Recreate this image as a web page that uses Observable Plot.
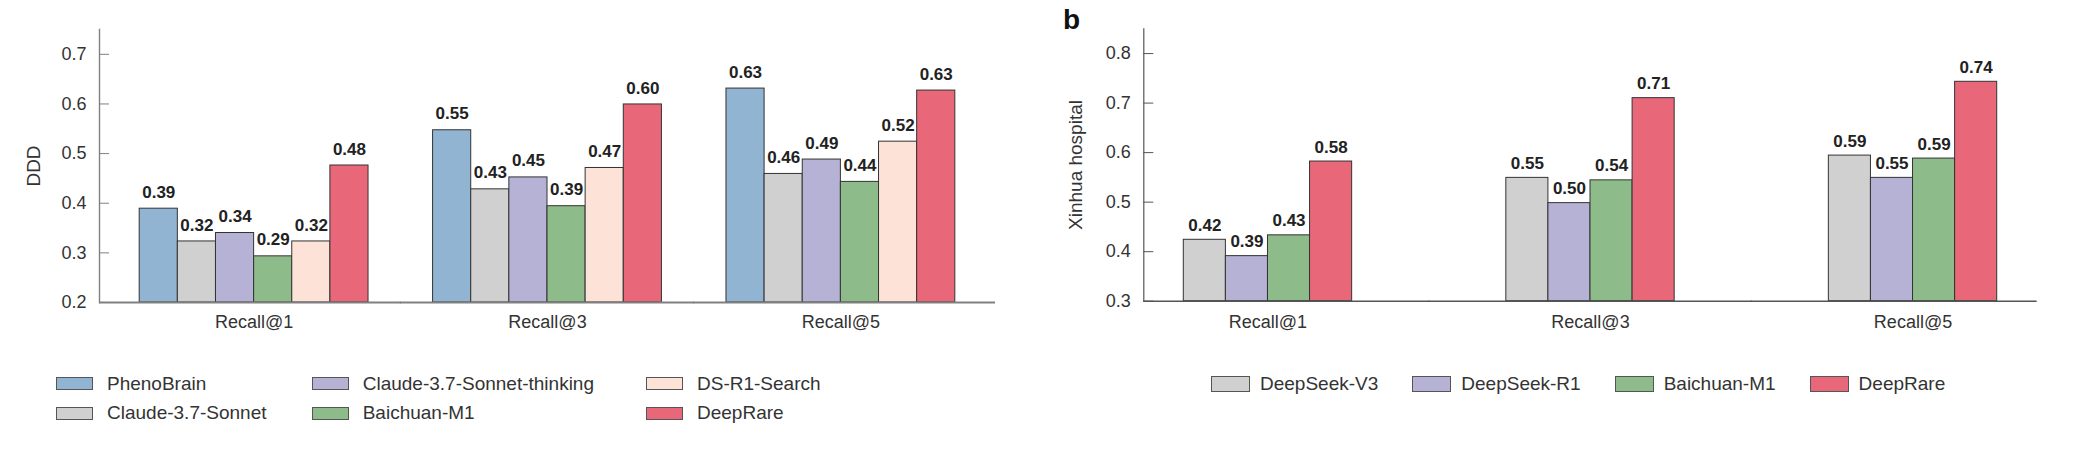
<!DOCTYPE html>
<html>
<head>
<meta charset="utf-8">
<script src="https://cdn.jsdelivr.net/npm/d3@7"></script>
<script src="https://cdn.jsdelivr.net/npm/@observablehq/plot@0.6"></script>
<style>
  body { margin: 0; background: #fff; font-family: "Liberation Sans", Arial, Helvetica, sans-serif; color: #333; }
  #wrap { position: relative; width: 2075px; height: 450px; overflow: hidden; background: #fff; }
  .chart { position: absolute; top: 0; }
  .legend { position: absolute; font-size: 19px; color: #333; }
  #legA { left: 56px; top: 369px; display: grid; grid-template-rows: repeat(2, 29.5px); grid-auto-flow: column; grid-template-columns: 255.7px 334.3px max-content; }
  #legB { left: 1211px; top: 369px; display: flex; column-gap: 34px; height: 29.5px; }
  .item { display: flex; align-items: center; white-space: nowrap; }
  .sw { display: inline-block; box-sizing: border-box; border: 1.4px solid #555; }
  #legA .sw { width: 37px; height: 13px; margin-right: 14px; }
  #legB .sw { width: 39px; height: 16px; margin-right: 10px; }
  #tagB { position: absolute; left: 1063px; top: 6px; font-size: 28px; line-height: 28px; font-weight: bold; color: #111; }
</style>
</head>
<body>
<div id="wrap">
  <div id="chartA" class="chart" style="left:0px"></div>
  <div id="chartB" class="chart" style="left:1040px"></div>
  <div id="tagB">b</div>
  <div id="legA" class="legend"></div>
  <div id="legB" class="legend"></div>
</div>
<script>
// ---------- data: panel a (DDD) ----------
const groups = ["Recall@1", "Recall@3", "Recall@5"];
const modelsA = ["PhenoBrain", "Claude-3.7-Sonnet", "Claude-3.7-Sonnet-thinking", "Baichuan-M1", "DS-R1-Search", "DeepRare"];
const colorsA = ["#92b4d3", "#d0d0d0", "#b6b2d6", "#8ebb8a", "#fde2d8", "#e8687a"];
const dddPhenoBrain = [0.389, 0.547, 0.631];
const dddClaude = [0.323, 0.428, 0.459];
const dddClaudeThinking = [0.340, 0.452, 0.488];
const dddBaichuan = [0.293, 0.394, 0.443];
const dddDSR1Search = [0.323, 0.471, 0.524];
const dddDeepRare = [0.476, 0.599, 0.627];
const yTicksA = [0.2, 0.3, 0.4, 0.5, 0.6, 0.7];

// ---------- data: panel b (Xinhua hospital) ----------
const modelsB = ["DeepSeek-V3", "DeepSeek-R1", "Baichuan-M1", "DeepRare"];
const colorsB = ["#d0d0d0", "#b6b2d6", "#8ebb8a", "#e8687a"];
const xhDeepSeekV3 = [0.424, 0.549, 0.594];
const xhDeepSeekR1 = [0.391, 0.498, 0.549];
const xhBaichuan = [0.433, 0.544, 0.588];
const xhDeepRare = [0.582, 0.710, 0.743];
const yTicksB = [0.3, 0.4, 0.5, 0.6, 0.7, 0.8];

function grouped(cfg) {
  const {models, colors, series, yDomain, yTicks, width, height, mL, mR, mT, mB,
         pi, po, yLabel, labelDx, labelDy, axisColor, axisW, baseW, fxPad} = cfg;
  const data = [];
  models.forEach((m, j) => groups.forEach((g, i) => data.push({group: g, model: m, value: series[j][i]})));
  const step = (width - mL - mR) / (groups.length - pi + 2 * po);
  const offset = step * po;                 // frame edge -> first group
  const bandwidth = step * (1 - pi);        // width of one group
  const halfGap = (step - bandwidth) / 2 + 0.5;
  const last = groups.length - 1;
  // baseline: one segment per group, stretched over the gaps up to the frame edges
  const baseline = groups.map((g, i) => Plot.ruleY([{group: g}], {
    fx: "group", y: () => yDomain[0],
    insetLeft: -(i === 0 ? offset : halfGap), insetRight: -(i === last ? offset : halfGap),
    stroke: axisColor, strokeWidth: baseW
  }));
  return Plot.plot({
    width, height, marginLeft: mL, marginRight: mR, marginTop: mT, marginBottom: mB,
    style: {fontFamily: '"Liberation Sans", Arial, Helvetica, sans-serif', background: "transparent", overflow: "visible", color: "#333"},
    fx: {domain: groups, paddingInner: pi, paddingOuter: po, axis: null, label: null, round: false},
    x: {domain: models, padding: 0, axis: null, round: false},
    y: {domain: yDomain, axis: null},
    color: {domain: models, range: colors},
    marks: [
      Plot.barY(data, {fx: "group", x: "model", y1: yDomain[0], y2: "value", fill: "model", stroke: "#333", strokeWidth: 1}),
      ...baseline,
      // left axis line, only in the first group, shifted back to the frame edge
      Plot.frame({anchor: "left", facetAnchor: "left", insetLeft: -offset, stroke: axisColor, strokeWidth: axisW}),
      // inward ticks
      Plot.ruleY(yTicks, {facetAnchor: "left", insetLeft: -offset, insetRight: bandwidth + offset - 10, stroke: axisColor, strokeWidth: 1}),
      Plot.text(data, {fx: "group", x: "model", y: "value", text: d => d.value.toFixed(2), dy: labelDy,
                       fontSize: 17, fontWeight: "bold", fill: "#222"}),
      Plot.axisY(yTicks, {anchor: "left", tickSize: 0, tickPadding: 13, dx: -offset, fontSize: 18,
                          fill: "#333", label: null, tickFormat: d => d.toFixed(1)}),
      Plot.axisFx({anchor: "bottom", tickSize: 0, tickPadding: fxPad, fontSize: 18, fill: "#333", label: null}),
      Plot.text([yLabel], {facetAnchor: "left", frameAnchor: "left", textAnchor: "middle", lineAnchor: "middle",
                           dx: labelDx - offset, rotate: -90, fontSize: 19, fill: "#333"})
    ]
  });
}

document.getElementById("chartA").append(grouped({
  models: modelsA, colors: colorsA,
  series: [dddPhenoBrain, dddClaude, dddClaudeThinking, dddBaichuan, dddDSR1Search, dddDeepRare],
  yDomain: [0.2, 0.75], yTicks: yTicksA,
  width: 1040, height: 345, mL: 99, mR: 45, mT: 29, mB: 43,
  pi: 0.22, po: 0.137, yLabel: "DDD", labelDx: -66, labelDy: -16.4,
  axisColor: "#808080", axisW: 1.4, baseW: 1.8, fxPad: 13
}));

document.getElementById("chartB").append(grouped({
  models: modelsB, colors: colorsB,
  series: [xhDeepSeekV3, xhDeepSeekR1, xhBaichuan, xhDeepRare],
  yDomain: [0.3, 0.85], yTicks: yTicksB,
  width: 1035, height: 345, mL: 103.3, mR: 38.3, mT: 28.3, mB: 44.3,
  pi: 0.478, po: 0.124, yLabel: "Xinhua hospital", labelDx: -68.3, labelDy: -14.4,
  axisColor: "#555", axisW: 1.2, baseW: 1.4, fxPad: 14.3
}));

function legend(el, models, colors) {
  models.forEach((m, i) => {
    const it = document.createElement("div");
    it.className = "item";
    const sw = document.createElement("span");
    sw.className = "sw";
    sw.style.background = colors[i];
    const t = document.createElement("span");
    t.textContent = m;
    it.append(sw, t);
    el.append(it);
  });
}
legend(document.getElementById("legA"), modelsA, colorsA);
legend(document.getElementById("legB"), modelsB, colorsB);
</script>
</body>
</html>
